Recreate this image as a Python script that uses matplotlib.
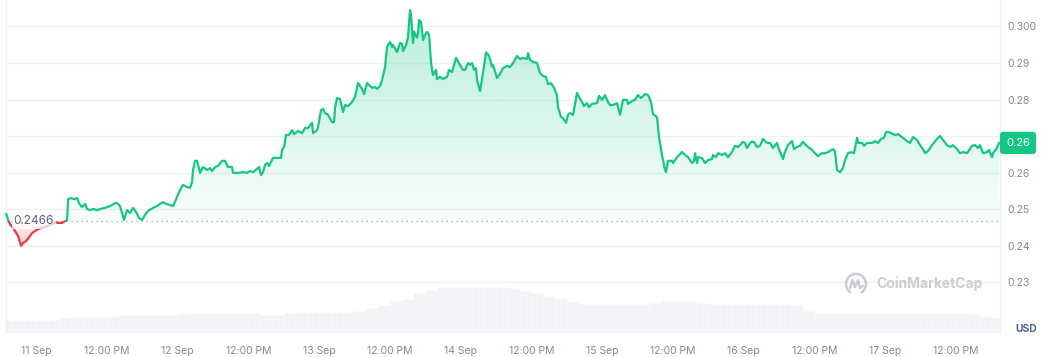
import math
import numpy as np
import matplotlib
matplotlib.use("Agg")
import matplotlib.pyplot as plt
from matplotlib.patches import Rectangle, Arc, PathPatch
from matplotlib.path import Path
from matplotlib.colors import to_rgb
from matplotlib.transforms import IdentityTransform, blended_transform_factory

plt.rcParams['font.family'] = ['Inter', 'DejaVu Sans']

# hours since 11 Sep 00:00
hours = [
    -5.05, -4.75, -4.40, -3.90, -3.05, -2.54, -2.20, -1.70, -1.02, -0.68,
    0.34, 1.53, 2.37, 3.22, 3.73, 4.41, 4.92, 5.26, 5.43, 5.94,
    6.45, 6.95, 7.29, 7.80, 8.31, 8.65, 9.16, 9.67, 10.35, 10.85,
    11.70, 12.55, 13.40, 13.74, 14.25, 14.92, 15.43, 15.94, 16.45, 16.96,
    17.47, 17.98, 18.49, 19.00, 19.84, 20.52, 21.03, 21.54, 22.05, 22.73,
    23.24, 23.91, 24.42, 24.93, 25.61, 26.12, 26.46, 26.63, 26.97, 27.31,
    27.82, 28.32, 29.00, 29.51, 29.85, 30.36, 30.87, 31.55, 32.05, 32.56,
    33.24, 33.41, 34.26, 35.11, 35.79, 36.29, 36.80, 37.48, 37.82, 38.16,
    38.50, 38.84, 39.18, 39.52, 39.86, 40.20, 41.04, 41.55, 41.72, 42.06,
    42.40, 42.91, 43.42, 43.76, 44.44, 45.12, 45.62, 46.13, 46.81, 46.98,
    47.66, 47.83, 48.34, 48.68, 49.02, 49.53, 50.20, 50.54, 50.71, 51.05,
    51.56, 52.07, 52.41, 52.92, 53.59, 54.10, 54.61, 55.29, 55.63, 56.14,
    56.99, 57.50, 57.83, 58.34, 58.68, 59.19, 59.53, 60.04, 60.38, 60.55,
    61.23, 61.74, 62.08, 62.25, 62.76, 63.09, 63.43, 63.60, 63.94, 64.11,
    64.62, 64.79, 64.96, 65.30, 65.64, 65.98, 66.32, 66.66, 67.00, 67.33,
    67.84, 68.01, 68.52, 69.03, 69.71, 70.05, 70.56, 71.23, 71.57, 72.42,
    72.76, 73.27, 73.61, 73.95, 74.29, 74.63, 74.80, 75.31, 75.81, 76.32,
    76.83, 77.34, 77.51, 78.19, 78.70, 79.21, 79.89, 80.39, 80.90, 81.58,
    82.09, 82.60, 83.28, 83.45, 83.79, 84.29, 84.97, 85.48, 85.99, 86.50,
    86.84, 87.35, 87.86, 88.36, 88.53, 89.04, 89.38, 89.89, 90.23, 90.57,
    91.08, 91.76, 91.93, 92.60, 92.94, 93.45, 93.79, 94.30, 95.15, 95.49,
    95.99, 96.50, 97.01, 97.35, 97.86, 98.54, 99.05, 99.56, 100.23, 100.40,
    101.08, 101.59, 102.10, 102.61, 103.29, 103.80, 104.31, 104.64, 105.32, 105.66,
    106.17, 106.68, 106.85, 107.19, 107.87, 108.04, 108.72, 109.56, 110.07, 110.58,
    111.26, 111.60, 111.77, 112.11, 112.28, 112.95, 113.46, 113.97, 114.65, 114.82,
    115.33, 115.67, 116.35, 116.86, 117.36, 118.04, 118.55, 119.06, 119.91, 120.25,
    120.59, 121.27, 121.77, 122.28, 122.79, 123.30, 123.98, 124.49, 124.99, 125.67,
    126.01, 126.69, 127.03, 127.54, 128.22, 128.56, 129.07, 129.57, 130.08, 130.59,
    130.93, 131.61, 132.12, 132.63, 133.31, 133.81, 134.32, 135.17, 135.51, 135.85,
    136.36, 136.87, 137.21, 137.72, 138.23, 138.74, 139.25, 139.42, 140.10, 140.44,
    140.94, 141.79, 142.30, 142.81, 143.32, 143.83, 144.17, 144.68, 145.02, 145.69,
    146.20, 146.88, 147.73, 148.24, 148.75, 149.43, 149.93, 150.44, 150.78, 151.29,
    151.97, 152.82, 153.33, 153.84, 154.51, 155.02, 155.53, 156.21, 156.72, 157.23,
    157.91, 158.75, 159.26, 159.77, 160.11, 160.62, 161.30, 161.64, 162.15, 162.32,
    162.99, 163.33,
]

prices = [
    0.2486, 0.2470, 0.2458, 0.2448, 0.2426, 0.2399, 0.2407, 0.2412, 0.2426, 0.2434,
    0.2445, 0.2451, 0.2456, 0.2464, 0.2462, 0.2462, 0.2467, 0.2470, 0.2527, 0.2530,
    0.2527, 0.2530, 0.2516, 0.2505, 0.2514, 0.2500, 0.2497, 0.2500, 0.2497, 0.2500,
    0.2503, 0.2508, 0.2516, 0.2516, 0.2508, 0.2470, 0.2497, 0.2489, 0.2503, 0.2492,
    0.2475, 0.2470, 0.2484, 0.2495, 0.2503, 0.2508, 0.2514, 0.2519, 0.2514, 0.2511,
    0.2508, 0.2533, 0.2552, 0.2566, 0.2560, 0.2558, 0.2574, 0.2607, 0.2632, 0.2632,
    0.2599, 0.2615, 0.2607, 0.2612, 0.2604, 0.2615, 0.2618, 0.2632, 0.2632, 0.2615,
    0.2615, 0.2599, 0.2599, 0.2601, 0.2599, 0.2604, 0.2601, 0.2610, 0.2615, 0.2593,
    0.2601, 0.2621, 0.2626, 0.2618, 0.2629, 0.2640, 0.2640, 0.2640, 0.2662, 0.2670,
    0.2703, 0.2703, 0.2716, 0.2705, 0.2714, 0.2708, 0.2722, 0.2722, 0.2736, 0.2708,
    0.2716, 0.2725, 0.2771, 0.2774, 0.2763, 0.2758, 0.2738, 0.2738, 0.2777, 0.2804,
    0.2801, 0.2766, 0.2785, 0.2782, 0.2793, 0.2807, 0.2845, 0.2829, 0.2815, 0.2845,
    0.2832, 0.2834, 0.2829, 0.2837, 0.2853, 0.2889, 0.2944, 0.2958, 0.2944, 0.2949,
    0.2930, 0.2955, 0.2952, 0.2933, 0.2949, 0.2971, 0.3045, 0.3031, 0.2955, 0.2986,
    0.2969, 0.2982, 0.3018, 0.3012, 0.2963, 0.2977, 0.2985, 0.2977, 0.2900, 0.2867,
    0.2881, 0.2856, 0.2862, 0.2856, 0.2862, 0.2881, 0.2875, 0.2914, 0.2904, 0.2881,
    0.2881, 0.2900, 0.2895, 0.2900, 0.2881, 0.2886, 0.2853, 0.2823, 0.2873, 0.2929,
    0.2920, 0.2890, 0.2895, 0.2859, 0.2870, 0.2886, 0.2892, 0.2889, 0.2900, 0.2919,
    0.2911, 0.2914, 0.2911, 0.2927, 0.2908, 0.2903, 0.2900, 0.2873, 0.2864, 0.2862,
    0.2842, 0.2845, 0.2832, 0.2812, 0.2779, 0.2752, 0.2749, 0.2736, 0.2758, 0.2763,
    0.2758, 0.2818, 0.2812, 0.2793, 0.2782, 0.2790, 0.2779, 0.2788, 0.2790, 0.2810,
    0.2799, 0.2812, 0.2793, 0.2785, 0.2785, 0.2790, 0.2758, 0.2799, 0.2799, 0.2788,
    0.2796, 0.2799, 0.2812, 0.2804, 0.2815, 0.2812, 0.2793, 0.2760, 0.2752, 0.2697,
    0.2648, 0.2607, 0.2601, 0.2632, 0.2632, 0.2626, 0.2642, 0.2656, 0.2648, 0.2642,
    0.2626, 0.2632, 0.2653, 0.2626, 0.2642, 0.2640, 0.2626, 0.2634, 0.2637, 0.2648,
    0.2642, 0.2653, 0.2648, 0.2653, 0.2642, 0.2656, 0.2673, 0.2670, 0.2684, 0.2681,
    0.2667, 0.2684, 0.2684, 0.2670, 0.2673, 0.2692, 0.2681, 0.2681, 0.2667, 0.2681,
    0.2664, 0.2637, 0.2656, 0.2675, 0.2686, 0.2664, 0.2670, 0.2673, 0.2684, 0.2675,
    0.2670, 0.2662, 0.2653, 0.2645, 0.2653, 0.2653, 0.2656, 0.2664, 0.2659, 0.2607,
    0.2601, 0.2612, 0.2634, 0.2653, 0.2656, 0.2653, 0.2695, 0.2681, 0.2681, 0.2673,
    0.2681, 0.2681, 0.2686, 0.2681, 0.2692, 0.2695, 0.2711, 0.2711, 0.2708, 0.2703,
    0.2705, 0.2697, 0.2686, 0.2681, 0.2697, 0.2689, 0.2675, 0.2664, 0.2653, 0.2659,
    0.2675, 0.2692, 0.2700, 0.2689, 0.2675, 0.2670, 0.2675, 0.2664, 0.2653, 0.2656,
    0.2653, 0.2673, 0.2675, 0.2667, 0.2675, 0.2653, 0.2656, 0.2662, 0.2642, 0.2653,
    0.2667, 0.2681,
]

open_price = 0.2466

# volume (relative units), one value every 2 hours starting at -5 h
vol_start = -5
vol_step = 2
volume = [
    13, 13, 13, 13, 13, 15, 16, 16, 16, 16,
    18, 18, 18, 18, 18, 19, 20, 20, 20, 20,
    20, 20, 18, 18, 20, 21, 21, 21, 21, 21,
    22, 25, 28, 32, 34, 40, 43, 46, 46, 46,
    46, 46, 46, 45, 42, 40, 37, 35, 31, 29,
    29, 29, 29, 29, 29, 30, 32, 32, 32, 30,
    29, 29, 29, 29, 29, 29, 29, 28, 22, 20,
    20, 20, 20, 20, 20, 20, 20, 20, 20, 20,
    20, 20, 19, 16, 15,
]

tick_hours = [0, 12, 24, 36, 48, 60, 72, 84, 96, 108, 120, 132, 144, 156]
tick_labels = ["11 Sep", "12:00 PM", "12 Sep", "12:00 PM", "13 Sep", "12:00 PM",
               "14 Sep", "12:00 PM", "15 Sep", "12:00 PM", "16 Sep", "12:00 PM",
               "17 Sep", "12:00 PM"]
ytick_values = [0.23, 0.24, 0.25, 0.26, 0.27, 0.28, 0.29, 0.30]
# the 0.27 label sits under the last-price tag in the reference
ytick_labels = ["0.23", "0.24", "0.25", "0.26", "", "0.28", "0.29", "0.300"]

GREEN = '#16c784'
RED = '#ea3943'
GRID = '#eff2f5'
TXT = '#808a9d'

h = np.array(hours)
p = np.array(prices)
vol_hours = vol_start + vol_step * np.arange(len(volume))

W, H = 1044, 357
fig = plt.figure(figsize=(W / 100, H / 100), dpi=100)
fig.patch.set_facecolor('white')
pos = [6 / W, 24 / H, 994 / W, 333 / H]
XLIM = (-5.1, 163.5)
YLIM = (0.21603, 0.30726)

# volume layer
axv = fig.add_axes(pos)
axv.bar(vol_hours, volume, width=vol_step, color='#f1f3f6',
        edgecolor='#f9fafb', linewidth=0.4, align='center')
axv.set_xlim(*XLIM)
axv.set_ylim(0, max(volume) / 0.138)
axv.axis('off')

# price layer
ax = fig.add_axes(pos, facecolor='none')
ax.set_xlim(*XLIM)
ax.set_ylim(*YLIM)

# gradient fills
def gradient_fill(mask, y0, y1, color, a_low, a_high):
    coll = ax.fill_between(h, p, open_price, where=mask, interpolate=True,
                           color='none', lw=0)
    paths = coll.get_paths()
    if not paths:
        return
    comp = Path.make_compound_path(*paths)
    g = np.linspace(0, 1, 256)
    rgba = np.zeros((256, 1, 4))
    rgba[:, 0, :3] = to_rgb(color)
    rgba[:, 0, 3] = a_low + (a_high - a_low) * g
    im = ax.imshow(rgba, extent=(h[0], h[-1], y0, y1), origin='lower',
                   aspect='auto', zorder=1, interpolation='bilinear')
    im.set_clip_path(comp, ax.transData)

gradient_fill(p >= open_price, open_price, p.max(), GREEN, 0.03, 0.30)
gradient_fill(p <= open_price, p.min(), open_price, RED, 0.28, 0.05)

ax.set_xlim(*XLIM)
ax.set_ylim(*YLIM)

# line coloured above / below the open price
lg, = ax.plot(h, p, color=GREEN, lw=1.6, zorder=3, solid_joinstyle='round')
lg.set_clip_path(Rectangle((XLIM[0] - 10, open_price), 400, 1, transform=ax.transData))
lr, = ax.plot(h, p, color=RED, lw=1.6, zorder=3, solid_joinstyle='round')
lr.set_clip_path(Rectangle((XLIM[0] - 10, open_price - 1), 400, 1, transform=ax.transData))

# open-price dotted line and label
ax.axhline(open_price, color='#9aa3b2', lw=0.9, ls=(0, (1, 3)), zorder=2)
bt = blended_transform_factory(ax.transAxes, ax.transData)
ax.text(0.0075, open_price, f"{open_price:.4f}", transform=bt, ha='left', va='center',
        fontsize=8.5, color='#58667e', zorder=4,
        bbox=dict(boxstyle='square,pad=0.15', fc='white', ec='none', alpha=0.75))

# grid and axes styling
ax.set_yticks(ytick_values, ytick_labels)
ax.yaxis.tick_right()
ax.grid(axis='y', color=GRID, lw=1, zorder=0)
ax.set_axisbelow(True)
ax.tick_params(axis='y', length=0, pad=5, labelsize=7.5, labelcolor=TXT)
ax.set_xticks(tick_hours, tick_labels)
ax.tick_params(axis='x', length=0, pad=9, labelsize=7.5, labelcolor=TXT)
for s in ['top', 'bottom']:
    ax.spines[s].set_visible(False)
for s in ['left', 'right']:
    ax.spines[s].set_color(GRID)
    ax.spines[s].set_linewidth(1)

# last price tag
last = p[-1]
tag = f"{math.floor(last * 100) / 100:.2f}"
ax.annotate(tag, xy=(1.0, last), xycoords=bt, xytext=(4.4, 0),
            textcoords='offset points', ha='left', va='center', color='white',
            fontsize=8, zorder=6, annotation_clip=False,
            bbox=dict(boxstyle='round,pad=0.55,rounding_size=0.3', fc=GREEN, ec='none'))

# USD label
fig.text(1026 / W, 1 - 329 / H, "USD", ha='center', va='center',
         fontweight='bold', color='#58667e', fontsize=7.5)

# watermark
WM = '#c8cdd6'
fig.text(876 / W, 1 - 284 / H, "CoinMarketCap", ha='left', va='center',
         color=WM, fontsize=10, fontweight='bold')
cx, cy = 856, H - 284
fig.add_artist(Arc((cx, cy), 20, 20, theta1=-60, theta2=240, color=WM, lw=1.8,
                   transform=IdentityTransform()))
wave = Path([(cx - 6, cy - 4), (cx - 3.5, cy + 4), (cx - 1, cy - 3), (cx + 2, cy + 4),
             (cx + 4, cy - 4), (cx + 7, cy - 2)])
fig.add_artist(PathPatch(wave, fill=False, ec=WM, lw=1.8, transform=IdentityTransform(),
                         capstyle='round', joinstyle='round'))

fig.savefig('out.png', dpi=100)
